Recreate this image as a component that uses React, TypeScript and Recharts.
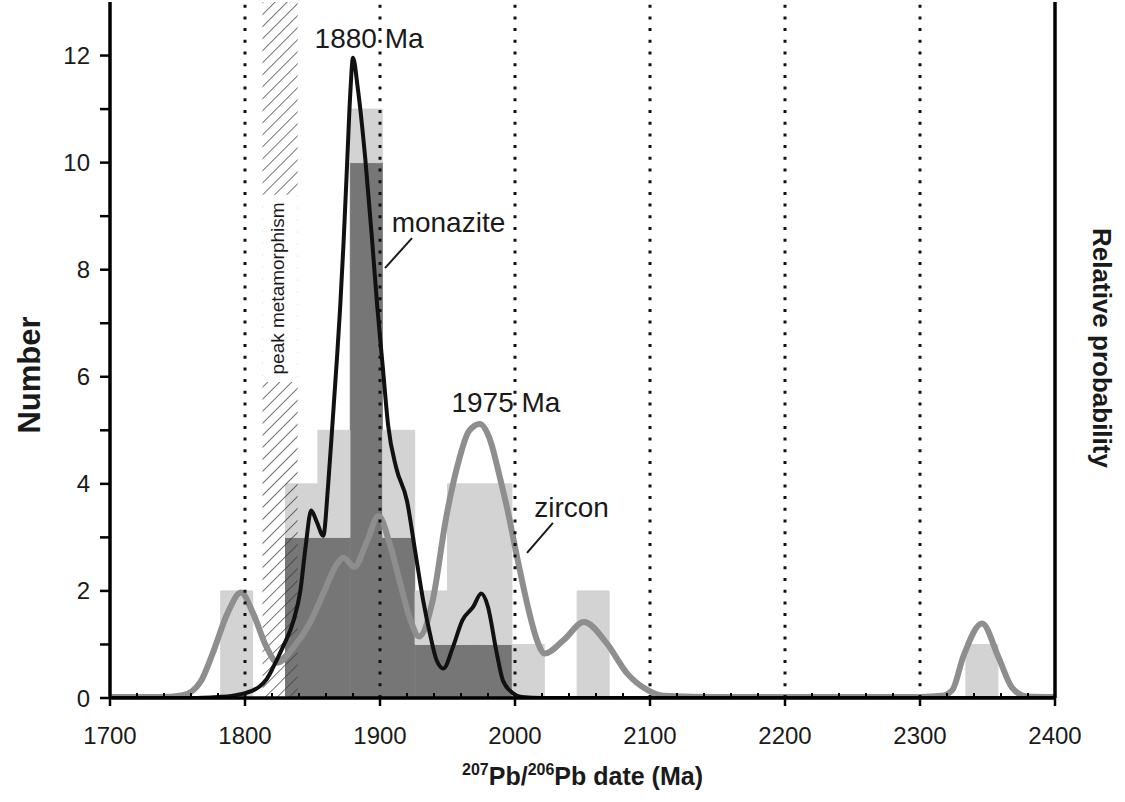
import React from 'react';
import {
  ComposedChart,
  Bar,
  Line,
  XAxis,
  YAxis,
  ReferenceLine,
  ReferenceArea,
  ReferenceDot,
} from 'recharts';

const FONT = 'Arial, "Liberation Sans", Helvetica, sans-serif';

// histogram: 24 Ma bins, given by their centre ages
const binCentres = [1794, 1842, 1866, 1890, 1914, 1938, 1962, 1986, 2010, 2058, 2346];
const monaziteCounts = [0, 3, 3, 10, 3, 1, 1, 1, 0, 0, 0];
const zirconCounts = [2, 1, 2, 1, 2, 1, 3, 3, 1, 2, 1];

// relative probability curves
const monaziteAges = [
  1700, 1760, 1780, 1790, 1800, 1810, 1816, 1821, 1828, 1836, 1841, 1845, 1849, 1853, 1858,
  1861.5, 1865, 1868, 1870.5, 1873, 1875.5, 1878, 1880, 1883.5, 1889, 1894, 1898, 1902, 1906,
  1912, 1920, 1926, 1932, 1937, 1942, 1947, 1954, 1961, 1969, 1975, 1980, 1986, 1991, 1998,
  2005, 2020, 2100, 2400,
];
const monaziteProb = [
  0, 0, 0.02, 0.04, 0.09, 0.2, 0.35, 0.58, 0.95, 1.45, 2.0, 2.85, 3.5, 3.3, 3.03,
  3.95, 5.2, 6.3, 7.3, 8.5, 9.9, 11.3, 11.96, 11.4, 10.1, 8.6, 7.3, 6.2, 5.1,
  4.3, 3.68, 2.75, 1.82, 1.2, 0.7, 0.55, 0.95, 1.45, 1.7, 1.95, 1.7, 0.9, 0.33, 0.1,
  0.02, 0, 0, 0,
];
const zirconAges = [
  1700, 1740, 1754, 1767, 1776, 1787, 1797, 1806, 1816, 1824, 1836, 1848, 1858, 1868, 1873,
  1881, 1890, 1899, 1907, 1915, 1922, 1929, 1939, 1949, 1957, 1966, 1974, 1981, 1989, 1995,
  2001, 2006, 2011, 2016, 2022, 2036, 2051, 2068, 2083, 2098, 2110, 2140, 2300, 2316, 2324,
  2332, 2346, 2358, 2368, 2379, 2400,
];
const zirconProb = [
  0.02, 0.02, 0.05, 0.3, 0.83, 1.58, 1.97, 1.58, 0.95, 0.66, 0.95, 1.4, 1.95, 2.5, 2.62,
  2.45, 2.9, 3.4, 2.9, 2.14, 1.5, 1.15, 1.82, 3.37, 4.3, 4.99, 5.12, 4.86, 4.1, 3.45,
  2.7, 2.1, 1.55, 1.1, 0.83, 1.08, 1.42, 1.02, 0.46, 0.15, 0.04, 0.02, 0.02, 0.04, 0.15,
  0.77, 1.39, 0.77, 0.2, 0.03, 0.02,
];

const majorAges = [1700, 1800, 1900, 2000, 2100, 2200, 2300, 2400];
const gridAges = [1800, 1900, 2000, 2100, 2200, 2300];
const yTicks = [0, 1, 2, 3, 4, 5, 6, 7, 8, 9, 10, 11, 12];

const xTicks = majorAges.flatMap((a, i) =>
  i === majorAges.length - 1 ? [a] : [a, a + 20, a + 40, a + 60, a + 80]
);

const histogram = binCentres.map((age, i) => ({
  age,
  monazite: monaziteCounts[i],
  zircon: zirconCounts[i],
}));
const monaziteCurve = monaziteAges.map((age, i) => ({ age, p: monaziteProb[i] }));
const zirconCurve = zirconAges.map((age, i) => ({ age, p: zirconProb[i] }));

const XTick = (props: any) => {
  const { x, y, payload } = props;
  const v = payload.value;
  const major = v % 100 === 0;
  return (
    <g>
      {major ? (
        <line x1={x} x2={x} y1={y} y2={y + 8} stroke="#000" strokeWidth={2.5} />
      ) : (
        <line x1={x} x2={x} y1={y} y2={y - 5} stroke="#000" strokeWidth={2} />
      )}
      {major && (
        <text x={x} y={y + 46} textAnchor="middle" fontSize={24} fill="#1a1a1a" fontFamily={FONT}>
          {v}
        </text>
      )}
    </g>
  );
};

const xLabel = (props: any) => {
  const { x, y, width } = props.viewBox;
  return (
    <text
      x={x + width / 2}
      y={y + 87}
      textAnchor="middle"
      fontSize={25}
      fontWeight="bold"
      fill="#1a1a1a"
      fontFamily={FONT}
    >
      <tspan fontSize={16} dy={-10}>207</tspan>
      <tspan dy={10}>Pb/</tspan>
      <tspan fontSize={16} dy={-10}>206</tspan>
      <tspan dy={10}>Pb date (Ma)</tspan>
    </text>
  );
};

const numberLabel = (props: any) => {
  const { x } = props.viewBox;
  const cx = x + 40;
  const cy = 375;
  return (
    <text
      x={cx}
      y={cy}
      transform={`rotate(-90 ${cx} ${cy})`}
      textAnchor="middle"
      fontSize={31}
      fontWeight="bold"
      fill="#1a1a1a"
      fontFamily={FONT}
    >
      Number
    </text>
  );
};

const probLabel = (props: any) => {
  const { x } = props.viewBox;
  const cx = x + 38;
  const cy = 348;
  return (
    <text
      x={cx}
      y={cy}
      transform={`rotate(90 ${cx} ${cy})`}
      textAnchor="middle"
      fontSize={26}
      fontWeight="bold"
      fill="#1a1a1a"
      fontFamily={FONT}
    >
      Relative probability
    </text>
  );
};

const peakLabel = (props: any) => {
  const { x, y, width, height } = props.viewBox;
  const cx = x + width / 2 + 4;
  const cy = y + height / 2;
  return (
    <text
      x={cx}
      y={cy}
      transform={`rotate(-90 ${cx} ${cy})`}
      textAnchor="middle"
      fontSize={19}
      fill="#1a1a1a"
      fontFamily={FONT}
    >
      peak metamorphism
    </text>
  );
};

const note = (text: string) => (props: any) => {
  const { x, y } = props.viewBox;
  return (
    <text x={x} y={y} textAnchor="middle" fontSize={28} fill="#1a1a1a" fontFamily={FONT}>
      {text}
    </text>
  );
};

export default function App() {
  return (
    <div style={{ position: 'absolute', left: 0, top: 0, width: 1125, height: 802, background: '#fff' }}>
      <ComposedChart
        width={1125}
        height={802}
        data={histogram}
        margin={{ top: 2, right: 0, bottom: 0, left: 0 }}
        barCategoryGap={0}
        barGap={0}
      >
        <defs>
          <pattern
            id="hatch"
            patternUnits="userSpaceOnUse"
            width="8.5"
            height="8.5"
            patternTransform="rotate(45)"
          >
            <line x1="0" y1="0" x2="0" y2="8.5" stroke="#3a3a3a" strokeWidth="1.4" />
          </pattern>
        </defs>

        <XAxis
          dataKey="age"
          type="number"
          domain={[1700, 2400]}
          ticks={xTicks}
          interval={0}
          allowDataOverflow
          tickLine={false}
          tickSize={0}
          tickMargin={0}
          height={104}
          axisLine={{ stroke: '#000', strokeWidth: 3.5 }}
          tick={XTick}
          label={xLabel}
        />
        <XAxis
          xAxisId="curve"
          dataKey="age"
          type="number"
          orientation="top"
          domain={[1700, 2400]}
          allowDataOverflow
          height={0}
          tick={false}
          tickLine={false}
          axisLine={{ stroke: '#000', strokeWidth: 3.5 }}
        />
        <YAxis
          type="number"
          domain={[0, 13]}
          ticks={yTicks}
          interval={0}
          allowDataOverflow
          width={110}
          tickSize={10}
          tickMargin={10}
          tickLine={{ stroke: '#000', strokeWidth: 2.5 }}
          axisLine={{ stroke: '#000', strokeWidth: 3.5 }}
          tick={{ fontSize: 24, fill: '#1a1a1a', fontFamily: FONT }}
          tickFormatter={(v: number) => (v % 2 === 0 ? String(v) : '')}
          label={numberLabel}
        />
        <YAxis
          yAxisId="prob"
          orientation="right"
          type="number"
          domain={[0, 13]}
          allowDataOverflow
          width={70}
          tick={false}
          tickLine={false}
          axisLine={{ stroke: '#000', strokeWidth: 3.5 }}
          label={probLabel}
        />

        <Bar
          dataKey="monazite"
          stackId="h"
          fill="#767676"
          stroke="#767676"
          strokeWidth={1}
          isAnimationActive={false}
        />
        <Bar
          dataKey="zircon"
          stackId="h"
          fill="#d3d3d3"
          stroke="#d3d3d3"
          strokeWidth={1}
          isAnimationActive={false}
        />

        <ReferenceArea
          x1={1813}
          x2={1839}
          y1={0}
          y2={13}
          fill="url(#hatch)"
          fillOpacity={1}
          stroke="none"
          zIndex={350}
        />
        <ReferenceArea
          x1={1813}
          x2={1839}
          y1={5.9}
          y2={9.4}
          fill="#fff"
          fillOpacity={1}
          stroke="none"
          zIndex={360}
          label={peakLabel}
        />

        <Line
          data={zirconCurve}
          xAxisId="curve"
          yAxisId="prob"
          dataKey="p"
          type="monotone"
          stroke="#8e8e8e"
          strokeWidth={6}
          dot={false}
          activeDot={false}
          isAnimationActive={false}
        />
        <Line
          data={monaziteCurve}
          xAxisId="curve"
          yAxisId="prob"
          dataKey="p"
          type="monotone"
          stroke="#111"
          strokeWidth={4}
          dot={false}
          activeDot={false}
          isAnimationActive={false}
        />

        {gridAges.map((a) => (
          <ReferenceLine key={a} x={a} stroke="#111" strokeWidth={3} strokeDasharray="3 8.7" />
        ))}

        <ReferenceLine segment={[{ x: 1903.7, y: 8.03 }, { x: 1923.7, y: 8.59 }]} stroke="#1a1a1a" strokeWidth={2} />
        <ReferenceLine segment={[{ x: 2008.9, y: 2.71 }, { x: 2028.1, y: 3.27 }]} stroke="#1a1a1a" strokeWidth={2} />

        <ReferenceDot x={1891.9} y={12.14} r={0} label={note('1880 Ma')} />
        <ReferenceDot x={1950.7} y={8.7} r={0} label={note('monazite')} />
        <ReferenceDot x={1993.3} y={5.34} r={0} label={note('1975 Ma')} />
        <ReferenceDot x={2041.9} y={3.38} r={0} label={note('zircon')} />
      </ComposedChart>
    </div>
  );
}
